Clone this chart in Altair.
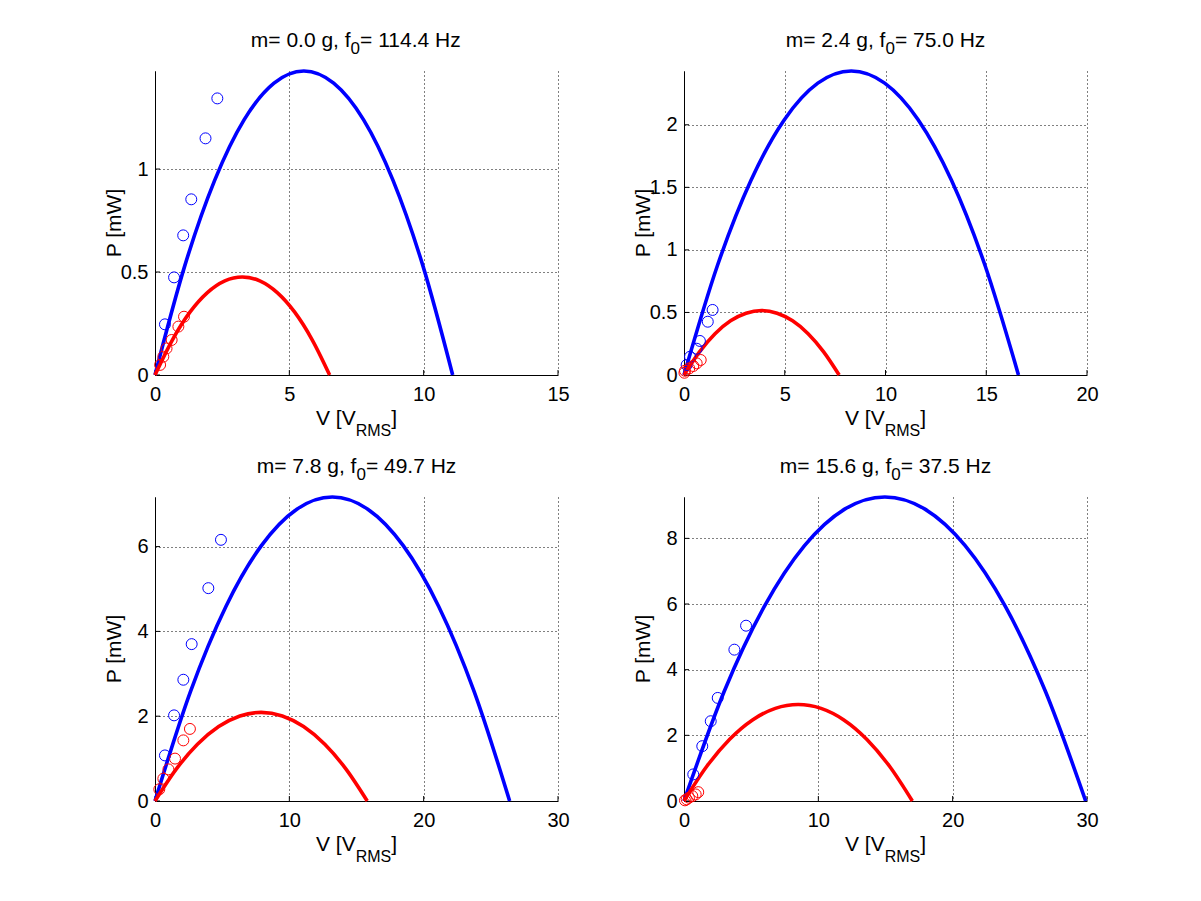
import altair as alt
import pandas as pd

FONT = "Liberation Sans"
W, H = 403, 304
BLUE = "#0000ff"
RED = "#ff0000"

# ---------------- panel meta ----------------
masses = ["0.0", "2.4", "7.8", "15.6"]
freqs = ["114.4", "75.0", "49.7", "37.5"]
x_max = [15, 20, 30, 30]
y_max = [1.476, 2.43, 7.17, 9.26]
x_ticks = [[0, 5, 10, 15], [0, 5, 10, 15, 20], [0, 10, 20, 30], [0, 10, 20, 30]]
y_ticks = [[0, 0.5, 1], [0, 0.5, 1, 1.5, 2], [0, 2, 4, 6], [0, 2, 4, 6, 8]]

# ---------------- model curves ----------------
blue_curve_v = [
    [0, 1.11, 2.22, 3.32, 4.43, 5.54, 6.65, 7.76, 8.86, 9.97, 11.08],
    [0, 1.66, 3.32, 4.98, 6.64, 8.3, 9.96, 11.62, 13.28, 14.94, 16.6],
    [0, 2.64, 5.28, 7.92, 10.56, 13.2, 15.84, 18.48, 21.12, 23.76, 26.4],
    [0, 2.99, 5.98, 8.97, 11.96, 14.95, 17.94, 20.93, 23.92, 26.91, 29.9],
]
blue_curve_p = [
    [0, 0.531, 0.945, 1.240, 1.417, 1.476, 1.417, 1.240, 0.945, 0.531, 0],
    [0, 0.875, 1.555, 2.041, 2.333, 2.43, 2.333, 2.041, 1.555, 0.875, 0],
    [0, 2.581, 4.589, 6.023, 6.883, 7.17, 6.883, 6.023, 4.589, 2.581, 0],
    [0, 3.334, 5.926, 7.778, 8.890, 9.26, 8.890, 7.778, 5.926, 3.334, 0],
]
red_curve_v = [
    [0, 0.65, 1.3, 1.95, 2.6, 3.25, 3.9, 4.55, 5.2, 5.85, 6.5],
    [0, 0.77, 1.54, 2.31, 3.08, 3.85, 4.62, 5.39, 6.16, 6.93, 7.7],
    [0, 1.58, 3.16, 4.74, 6.32, 7.9, 9.48, 11.06, 12.64, 14.22, 15.8],
    [0, 1.7, 3.4, 5.1, 6.8, 8.5, 10.2, 11.9, 13.6, 15.3, 17.0],
]
red_curve_p = [
    [0, 0.171, 0.305, 0.400, 0.457, 0.476, 0.457, 0.400, 0.305, 0.171, 0],
    [0, 0.185, 0.330, 0.433, 0.494, 0.515, 0.494, 0.433, 0.330, 0.185, 0],
    [0, 0.752, 1.338, 1.756, 2.006, 2.09, 2.006, 1.756, 1.338, 0.752, 0],
    [0, 1.058, 1.882, 2.470, 2.822, 2.94, 2.822, 2.470, 1.882, 1.058, 0],
]

# ---------------- measured points ----------------
blue_pts_v = [
    [0.37, 0.71, 1.05, 1.35, 1.88, 2.32],
    [0.13, 0.30, 0.63, 0.79, 1.18, 1.42],
    [0.74, 1.42, 2.11, 2.73, 3.97, 4.91],
    [0.69, 1.36, 1.99, 2.51, 3.75, 4.62],
]
blue_pts_p = [
    [0.246, 0.474, 0.678, 0.853, 1.149, 1.343],
    [0.08, 0.146, 0.21, 0.272, 0.426, 0.52],
    [1.075, 2.02, 2.86, 3.70, 5.02, 6.16],
    [0.81, 1.67, 2.43, 3.14, 4.61, 5.34],
]
red_pts_v = [
    [0.19, 0.31, 0.43, 0.62, 0.87, 1.08],
    [0.02, 0.05, 0.26, 0.46, 0.63, 0.83],
    [0.32, 0.62, 1.0, 1.49, 2.11, 2.6],
    [0.07, 0.2, 0.37, 0.62, 0.87, 1.06],
]
red_pts_p = [
    [0.049, 0.089, 0.129, 0.170, 0.235, 0.283],
    [0.018, 0.034, 0.053, 0.072, 0.093, 0.12],
    [0.275, 0.527, 0.746, 1.0, 1.43, 1.70],
    [0.02, 0.05, 0.10, 0.15, 0.20, 0.27],
]

# ---------------- text width helper (Arial/Liberation metrics) ----------------
CW = {"m": 833, "=": 584, " ": 278, ".": 278, "g": 556, ",": 278, "f": 278,
      "H": 722, "z": 500, "V": 667, "[": 278, "]": 278, "R": 722, "M": 833,
      "S": 667, "P": 667, "W": 944}


def tw(s, size):
    return sum(CW.get(c, 556) for c in s) / 1000.0 * size


ONE = pd.DataFrame({"k": [0]})


def text_layer(txt, x, y, size, angle=0, align="left"):
    kw = dict(text=txt, align=align, baseline="alphabetic", font=FONT,
              fontSize=size, color="black")
    if angle:
        kw["angle"] = angle
    return alt.Chart(ONE).mark_text(**kw).encode(x=alt.value(x), y=alt.value(y))


def rich_layers(parts, center_x, base_y, sub_dy):
    total = sum(tw(t, s) for t, s, _ in parts)
    x = center_x - total / 2.0
    out = []
    for t, s, sub in parts:
        out.append(text_layer(t, x, base_y + (sub_dy if sub else 0), s))
        x += tw(t, s)
    return out


def panel(i, anchor=False):
    xs = alt.Scale(domain=[0, x_max[i]], nice=False, zero=True)
    ys = alt.Scale(domain=[0, y_max[i]], nice=False, zero=True)
    common = dict(title=None, grid=True, gridColor="black", gridDash=[1, 3],
                  gridWidth=1, gridOpacity=1, ticks=False, domainColor="black",
                  domainWidth=1, labelFont=FONT, labelFontSize=20,
                  labelColor="black", labelFlush=False, labelOverlap=False,
                  labelBound=False, labelExpr="toString(datum.value)")
    xax = alt.Axis(values=x_ticks[i], labelBaseline="alphabetic",
                   labelPadding=25, **common)
    yax = alt.Axis(values=y_ticks[i], labelPadding=7, **common)
    X = alt.X("V:Q", scale=xs, axis=xax)
    Y = alt.Y("P:Q", scale=ys, axis=yax)

    layers = []
    # inward tick marks
    layers.append(alt.Chart(pd.DataFrame({"V": x_ticks[i]})).mark_rule(
        color="black", strokeWidth=1).encode(x=X, y=alt.value(H), y2=alt.value(H - 5)))
    layers.append(alt.Chart(pd.DataFrame({"P": y_ticks[i]})).mark_rule(
        color="black", strokeWidth=1).encode(y=Y, x=alt.value(0), x2=alt.value(5)))

    # curves
    layers.append(alt.Chart(pd.DataFrame({"V": blue_curve_v[i], "P": blue_curve_p[i]}))
                  .mark_line(color=BLUE, strokeWidth=3.6, interpolate="monotone")
                  .encode(x=X, y=Y))
    layers.append(alt.Chart(pd.DataFrame({"V": red_curve_v[i], "P": red_curve_p[i]}))
                  .mark_line(color=RED, strokeWidth=3.6, interpolate="monotone")
                  .encode(x=X, y=Y))
    # points
    layers.append(alt.Chart(pd.DataFrame({"V": blue_pts_v[i], "P": blue_pts_p[i]}))
                  .mark_point(shape="circle", filled=False, size=120, strokeWidth=1,
                              color=BLUE, opacity=1)
                  .encode(x=X, y=Y))
    layers.append(alt.Chart(pd.DataFrame({"V": red_pts_v[i], "P": red_pts_p[i]}))
                  .mark_point(shape="circle", filled=False, size=120, strokeWidth=1,
                              color=RED, opacity=1)
                  .encode(x=X, y=Y))

    # title: m= x g, f_0= y Hz
    layers += rich_layers([("m= %s g, f" % masses[i], 21, False),
                           ("0", 17, True),
                           ("= %s Hz" % freqs[i], 21, False)],
                          W / 2.0, -24, 7)
    # x label: V [V_RMS]
    layers += rich_layers([("V [V", 21, False), ("RMS", 16, True), ("]", 21, False)],
                          W / 2.0, H + 50, 11)
    # y label
    layers.append(text_layer("P [mW]", -34, H / 2.0, 21, angle=270, align="center"))

    if anchor:
        layers.append(alt.Chart(ONE).mark_rule(color="white", strokeOpacity=0)
                      .encode(x=alt.value(-146.5), x2=alt.value(-145.5), y=alt.value(-62.5)))

    return alt.layer(*layers).properties(width=W, height=H)


chart = alt.concat(
    panel(0, anchor=True), panel(1), panel(2), panel(3),
    columns=2, spacing={"row": 122, "column": 126}, bounds="flush",
).properties(padding=0, background="white").configure_view(stroke=None)

chart.save("out.html", embed_options={"renderer": "svg", "actions": False})
